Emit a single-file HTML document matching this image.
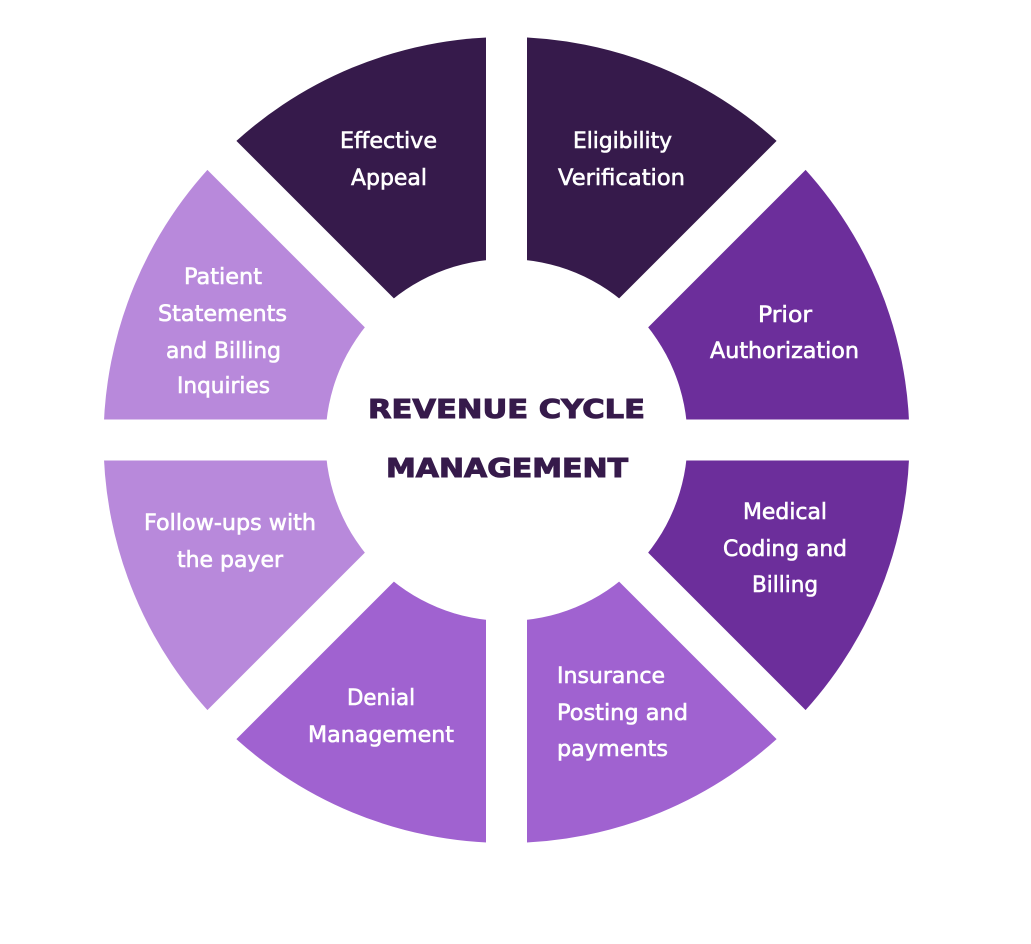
<!DOCTYPE html>
<html>
<head>
<meta charset="utf-8">
<style>
  html, body { margin: 0; padding: 0; background: #ffffff; }
  body { width: 1031px; height: 944px; overflow: hidden; }
  svg { display: block; }
  .lbl { font-family: "DejaVu Sans", "Liberation Sans", sans-serif; font-size: 22px; fill: #ffffff; stroke: #ffffff; stroke-width: 0.6px; }
  .ttl { font-family: "DejaVu Sans", "Liberation Sans", sans-serif; font-size: 26px; font-weight: bold; fill: #361A4B; stroke: #361A4B; stroke-width: 1px; }
</style>
</head>
<body>
<svg width="1031" height="944" viewBox="0 0 1031 944" xmlns="http://www.w3.org/2000/svg">
  <rect x="0" y="0" width="1031" height="944" fill="#ffffff"/>
  <g>
    <path d="M506.5 440 L221.54 155.04 A403 403 0 0 1 506.5 37 Z" fill="#361A4B"/>
    <path d="M506.5 440 L506.5 37 A403 403 0 0 1 791.46 155.04 Z" fill="#361A4B"/>
    <path d="M506.5 440 L791.46 155.04 A403 403 0 0 1 909.5 440 Z" fill="#6C2E9B"/>
    <path d="M506.5 440 L909.5 440 A403 403 0 0 1 791.46 724.96 Z" fill="#6C2E9B"/>
    <path d="M506.5 440 L791.46 724.96 A403 403 0 0 1 506.5 843 Z" fill="#A062D0"/>
    <path d="M506.5 440 L506.5 843 A403 403 0 0 1 221.54 724.96 Z" fill="#A062D0"/>
    <path d="M506.5 440 L221.54 724.96 A403 403 0 0 1 103.5 440 Z" fill="#B889DB"/>
    <path d="M506.5 440 L103.5 440 A403 403 0 0 1 221.54 155.04 Z" fill="#B889DB"/>
  </g>
  <g stroke="#ffffff" stroke-width="41" fill="none">
    <line x1="0" y1="440" x2="1031" y2="440"/>
    <line x1="506.5" y1="0" x2="506.5" y2="944"/>
    <line x1="56.5" y1="-10" x2="956.5" y2="890"/>
    <line x1="956.5" y1="-10" x2="56.5" y2="890"/>
  </g>
  <circle cx="506.5" cy="440" r="181" fill="#ffffff"/>

  <text class="ttl" x="368" y="418" textLength="277" lengthAdjust="spacingAndGlyphs">REVENUE CYCLE</text>
  <text class="ttl" x="386" y="477" textLength="242" lengthAdjust="spacingAndGlyphs">MANAGEMENT</text>

  <text class="lbl" x="340" y="148" textLength="97" lengthAdjust="spacingAndGlyphs">Effective</text>
  <text class="lbl" x="351" y="185" textLength="76" lengthAdjust="spacingAndGlyphs">Appeal</text>

  <text class="lbl" x="573" y="148" textLength="99" lengthAdjust="spacingAndGlyphs">Eligibility</text>
  <text class="lbl" x="558" y="185" textLength="127" lengthAdjust="spacingAndGlyphs">Verification</text>

  <text class="lbl" x="758" y="322" textLength="54" lengthAdjust="spacingAndGlyphs">Prior</text>
  <text class="lbl" x="710" y="358" textLength="149" lengthAdjust="spacingAndGlyphs">Authorization</text>

  <text class="lbl" x="743" y="519" textLength="84" lengthAdjust="spacingAndGlyphs">Medical</text>
  <text class="lbl" x="723" y="556" textLength="124" lengthAdjust="spacingAndGlyphs">Coding and</text>
  <text class="lbl" x="752" y="592" textLength="66" lengthAdjust="spacingAndGlyphs">Billing</text>

  <text class="lbl" x="557" y="683" textLength="108" lengthAdjust="spacingAndGlyphs">Insurance</text>
  <text class="lbl" x="557" y="720" textLength="131" lengthAdjust="spacingAndGlyphs">Posting and</text>
  <text class="lbl" x="557" y="756" textLength="111" lengthAdjust="spacingAndGlyphs">payments</text>

  <text class="lbl" x="347" y="705" textLength="68" lengthAdjust="spacingAndGlyphs">Denial</text>
  <text class="lbl" x="308" y="742" textLength="146" lengthAdjust="spacingAndGlyphs">Management</text>

  <text class="lbl" x="144" y="530" textLength="172" lengthAdjust="spacingAndGlyphs">Follow-ups with</text>
  <text class="lbl" x="177" y="567" textLength="106" lengthAdjust="spacingAndGlyphs">the payer</text>

  <text class="lbl" x="184" y="284" textLength="78" lengthAdjust="spacingAndGlyphs">Patient</text>
  <text class="lbl" x="158" y="321" textLength="129" lengthAdjust="spacingAndGlyphs">Statements</text>
  <text class="lbl" x="166" y="358" textLength="115" lengthAdjust="spacingAndGlyphs">and Billing</text>
  <text class="lbl" x="177" y="393" textLength="93" lengthAdjust="spacingAndGlyphs">Inquiries</text>
</svg>
</body>
</html>
